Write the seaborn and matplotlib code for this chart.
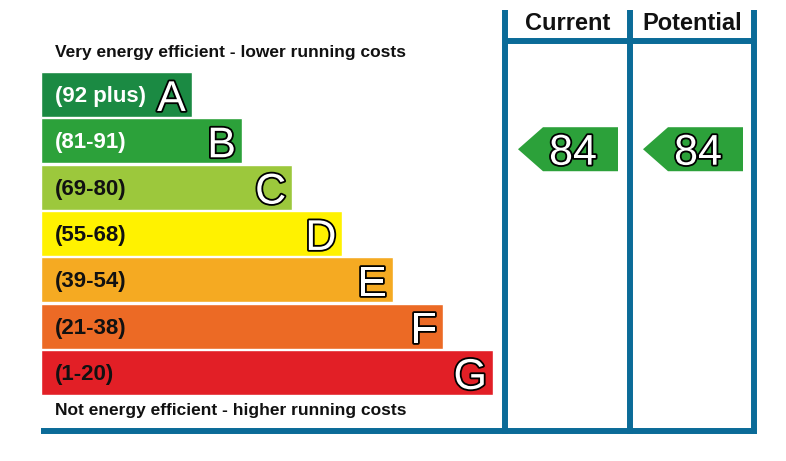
import matplotlib
matplotlib.use('Agg')
import matplotlib.pyplot as plt
import matplotlib.patheffects as pe
from matplotlib.transforms import blended_transform_factory
import numpy as np
import seaborn as sns

sns.set_style('white')
plt.rcParams['font.family'] = ['Liberation Sans', 'DejaVu Sans']

# EPC bands
bands = ['A', 'B', 'C', 'D', 'E', 'F', 'G']
ranges = ['(92 plus)', '(81-91)', '(69-80)', '(55-68)', '(39-54)', '(21-38)', '(1-20)']
lows = [92, 81, 69, 55, 39, 21, 1]
highs = [100, 91, 80, 68, 54, 38, 20]
bar_len = [3, 4, 5, 6, 7, 8, 9]
colors = ['#1b8a43', '#2ca13a', '#9cc83c', '#fff200', '#f5aa22', '#ec6a25', '#e21f26']
text_colors = ['white', 'white', '#111111', '#111111', '#111111', '#111111', '#111111']
columns = ['Current', 'Potential']
ratings = [84, 84]

blue = '#0b6b98'
W, H = 786, 461
fig = plt.figure(figsize=(W / 100, H / 100), dpi=100)

# overlay in pixel coordinates
ov = fig.add_axes([0, 0, 1, 1])
ov.set_xlim(0, W)
ov.set_ylim(H, 0)
ov.axis('off')

# bar axes
top, step = 71.3, 46.33
ax = fig.add_axes([41 / W, 1 - (top + 7 * step) / H, 452 / W, 7 * step / H])
ax.patch.set_visible(False)
sns.barplot(x=bar_len, y=bands, hue=bands, palette=colors, orient='h',
            width=0.97, saturation=1, legend=False, ax=ax)
ax.set_xlim(0, 9)
ax.set_ylim(6.5, -0.5)
ax.axis('off')

stroke = [pe.withStroke(linewidth=2.6, foreground='black')]
for i, (b, r, L) in enumerate(zip(bands, ranges, bar_len)):
    ax.annotate(r, xy=(0, i), xytext=(14, -2), textcoords='offset pixels',
                ha='left', va='center', fontsize=16, fontweight='bold',
                color=text_colors[i])
    t = ax.annotate(b, xy=(L, i), xytext=(-6, -1), textcoords='offset pixels',
                    ha='right', va='center_baseline', fontsize=31, color='white')
    t.set_path_effects(stroke)

ov.text(55, 52, 'Very energy efficient - lower running costs', ha='left', va='center',
        fontsize=12.5, fontweight='bold', color='#111111')
ov.text(55, 410, 'Not energy efficient - higher running costs', ha='left', va='center',
        fontsize=12.5, fontweight='bold', color='#111111')

# frame lines
lw = 4.3
col_x = [505, 630, 754]
for x in col_x:
    ov.plot([x, x], [10, 434], color=blue, lw=lw, solid_capstyle='butt')
ov.plot([col_x[0] - 2, col_x[-1] + 2], [41, 41], color=blue, lw=lw, solid_capstyle='butt')
ov.plot([41, col_x[-1] + 3], [431, 431], color=blue, lw=lw, solid_capstyle='butt')

for j, name in enumerate(columns):
    cx = (col_x[j] + col_x[j + 1]) / 2
    ov.text(cx, 24, name, ha='center', va='center', fontsize=17, fontweight='bold',
            color='#111111')

# rating arrows
tr = blended_transform_factory(ov.transData, ax.transData)
half = 0.475
for j, rating in enumerate(ratings):
    k = next(i for i in range(len(bands)) if lows[i] <= rating <= highs[i])
    yc = k - 0.5 + (highs[k] - rating + 0.5) / (highs[k] - lows[k] + 1)
    x0 = col_x[j] + 13
    xs = [x0, x0 + 25, x0 + 100, x0 + 100, x0 + 25]
    ys = [yc, yc - half, yc - half, yc + half, yc + half]
    ov.fill(xs, ys, color=colors[k], transform=tr, clip_on=False, lw=0)
    t = ov.text(x0 + 55, yc, str(rating), ha='center', va='center_baseline',
                fontsize=31, color='white', transform=tr)
    t.set_path_effects(stroke)

fig.savefig('out.png', dpi=100, facecolor='white')
